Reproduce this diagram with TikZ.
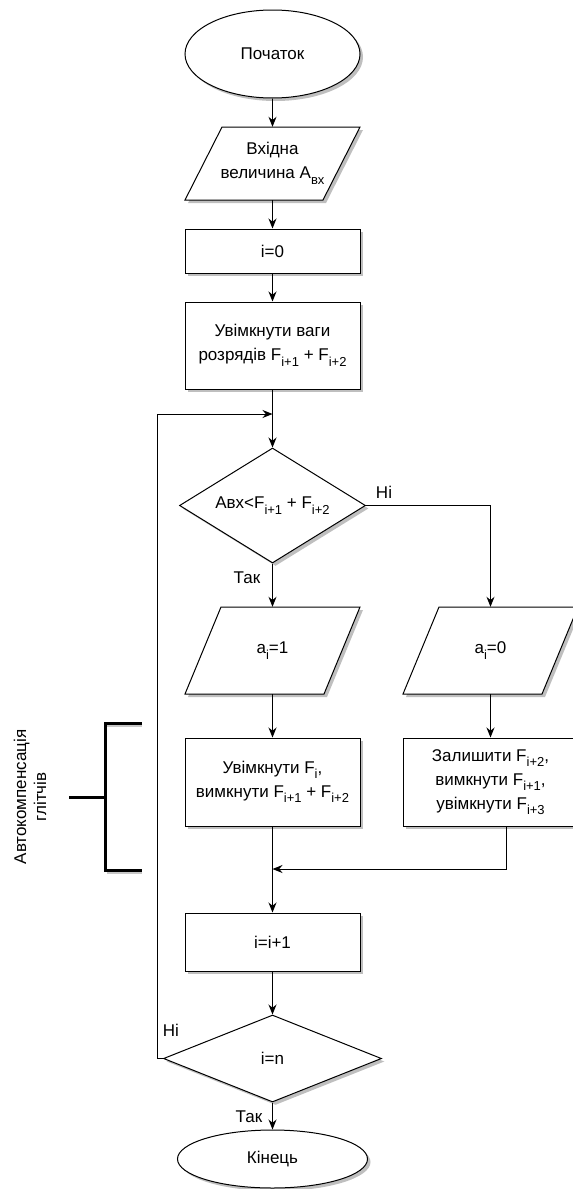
\documentclass[tikz,border=0pt]{standalone}
\usepackage{fontspec}
\setmainfont{Liberation Sans}
\usetikzlibrary{shapes.geometric,arrows.meta,shadows}
\newcommand\sbs[1]{\raisebox{-0.33em}{\fontsize{13}{13}\selectfont #1}}
\begin{document}
\begin{tikzpicture}[x=1pt,y=-1pt,
  shad/.style={drop shadow={shadow xshift=3pt,shadow yshift=-3pt,fill=black!25,opacity=1}},
  base/.style={draw,line width=1pt,fill=white,font=\fontsize{17}{24}\selectfont,align=center,inner sep=0pt,shad},
  proc/.style={base,rectangle,minimum width=175pt},
  term/.style={base,ellipse},
  dec/.style={base,diamond},
  iotext/.style={font=\fontsize{17}{24}\selectfont,align=center,inner sep=0pt,minimum width=100pt},
  pgram/.style={draw,line width=1pt,fill=white},
  pshad/.style={fill=black!25},
  conn/.style={line width=1pt,-{Stealth[length=10pt,width=8pt]}},
  lbl/.style={font=\fontsize{17}{20}\selectfont,inner sep=0pt},
  brk/.style={line width=3pt},
  brkshad/.style={line width=3pt,draw=black!22}
]
\useasboundingbox (0,0) rectangle (573,1189);

% start
\node[term,minimum width=175pt,minimum height=88pt] (start) at (272.5,54) {Початок};

% input parallelogram
\fill[pshad,shift={(3,3)}] (222,127) -- (360,127) -- (323,200) -- (185,200) -- cycle;
\draw[pgram] (222,127) -- (360,127) -- (323,200) -- (185,200) -- cycle;
\node[iotext,minimum height=73pt] (in) at (272.5,163.5) {Вхідна\\величина A\sbs{вх}};

% i=0
\node[proc,minimum height=44pt] (init) at (272.5,251) {i=0};

% weights on
\node[proc,minimum height=87pt] (w) at (272.5,345.5) {Увімкнути ваги\\розрядів F\sbs{i+1} + F\sbs{i+2}};

% decision 1
\node[dec,aspect=1.62,minimum width=186pt,minimum height=115pt] (d1) at (272.5,505.5) {Авх<F\sbs{i+1} + F\sbs{i+2}};

% a_i = 1
\fill[pshad,shift={(3,3)}] (221,607) -- (360,607) -- (324,694) -- (185,694) -- cycle;
\draw[pgram] (221,607) -- (360,607) -- (324,694) -- (185,694) -- cycle;
\node[iotext,minimum height=87pt] (ai1) at (272.5,650.5) {a\sbs{i}=1};

% a_i = 0
\fill[pshad,shift={(3,3)}] (439,607) -- (578,607) -- (542,694) -- (403,694) -- cycle;
\draw[pgram] (439,607) -- (578,607) -- (542,694) -- (403,694) -- cycle;
\node[iotext,minimum height=87pt] (ai0) at (490.5,650.5) {a\sbs{i}=0};

% boxes
\node[proc,minimum height=88pt] (fbox) at (272.5,782) {Увімкнути F\sbs{i},\\вимкнути F\sbs{i+1} + F\sbs{i+2}};
\node[proc,minimum height=88pt] (rbox) at (490.5,782) {Залишити F\sbs{i+2},\\вимкнути F\sbs{i+1},\\увімкнути F\sbs{i+3}};

% i=i+1
\node[proc,minimum height=58pt] (inc) at (272.5,942) {i=i+1};

% decision 2
\node[dec,aspect=2.5,minimum width=218pt,minimum height=87pt] (d2) at (272.5,1058.5) {i=n};

% end
\node[term,minimum width=190pt,minimum height=58pt] (end) at (272.5,1159) {Кінець};

% helper coordinates
\coordinate (lj) at (272.5,414);
\coordinate (lx) at (157,0);
\coordinate (mr) at (506,869);

% connectors
\draw[conn] (start) -- (in);
\draw[conn] (in) -- (init);
\draw[conn] (init) -- (w);
\draw[conn] (w) -- (d1);
\draw[conn] (d1.east) -| (ai0.north);
\draw[conn] (d1) -- (ai1);
\draw[conn] (ai1) -- (fbox);
\draw[conn] (ai0) -- (rbox);
\draw[conn] (fbox) -- (inc);
\draw[conn] (rbox.south -| mr) -- (mr) -- (mr -| fbox.south);
\draw[conn] (inc) -- (d2);
\draw[conn] (d2) -- (end);
\draw[conn] (d2.west) -- (d2.west -| lx) |- (lj);

% labels
\node[lbl] (l1) at (384,492) {Ні};
\node[lbl] (l2) at (247,578) {Так};
\node[lbl] (l3) at (171,1030) {Ні};
\node[lbl] (l4) at (249,1117) {Так};

% bracket
\draw[brkshad] (142,725.5) -- (107,725.5);
\draw[brkshad] (142,872.5) -- (107,872.5);
\draw[brk] (142,723) -- (105,723) -- (105,870) -- (142,870);
\draw[brk] (69,797) -- (105,797);
\node[font=\fontsize{17}{20}\selectfont,align=center,rotate=90,inner sep=0pt] (auto) at (30,797) {Автокомпенсація\\глітчів};
\end{tikzpicture}
\end{document}
